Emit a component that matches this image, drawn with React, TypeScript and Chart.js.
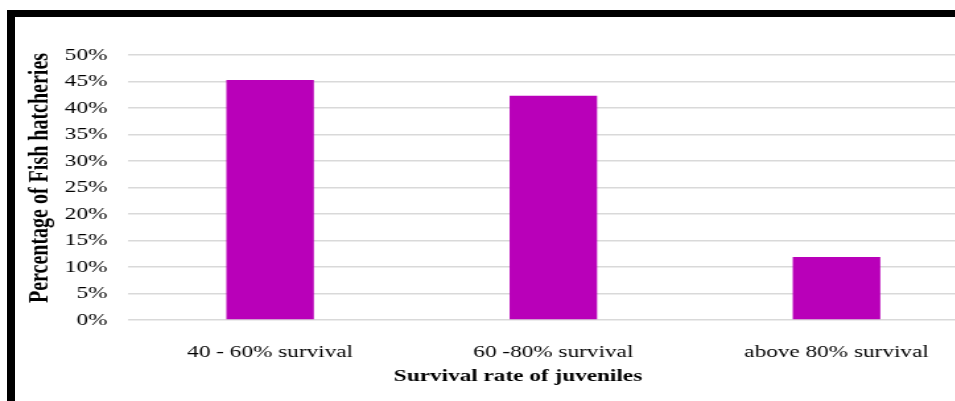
import React, { useEffect, useRef } from "react";
import { Chart, registerables } from "chart.js";

Chart.register(...registerables);

// ---- data ----
const categories: string[] = ["40 - 60% survival", "60 -80% survival", "above 80% survival"];
const values: number[] = [45.3, 42.3, 11.9];
const yMin = 0;
const yMax = 50;
const yStep = 5;
const yTitle = "Percentage of Fish hatcheries";
const xTitle = "Survival rate of juveniles";

// ---- layout (the reference is horizontally stretched) ----
const SX = 1.32;
const PLOT_LEFT = 128.5; // screen px
const PLOT_RIGHT = 978; // screen px (plot runs past the right edge)
const PLOT_TOP = 55;
const PLOT_BOTTOM = 320;
const W = Math.round(PLOT_RIGHT / SX);
const H = 401;
const FONT = '"Liberation Serif", "Times New Roman", serif';
const BAR_COLOR = "#b900b9";
const GRID_COLOR = "#d9d9d9";

const axisTitles = {
  id: "axisTitles",
  afterDraw(chart: any) {
    const ctx = chart.ctx as CanvasRenderingContext2D;
    ctx.save();
    ctx.fillStyle = "#000";
    ctx.textAlign = "center";
    ctx.textBaseline = "middle";
    ctx.font = `bold 17.6px ${FONT}`;
    ctx.fillText(xTitle, 518 / SX, 376);
    ctx.translate(41 / SX, 178);
    ctx.rotate(-Math.PI / 2);
    ctx.font = `bold 20px ${FONT}`;
    ctx.fillText(yTitle, 0, 0);
    ctx.restore();
  },
};

export default function App() {
  const ref = useRef<HTMLCanvasElement | null>(null);

  useEffect(() => {
    if (!ref.current) return;
    const chart = new Chart(ref.current, {
      type: "bar",
      data: {
        labels: categories,
        datasets: [
          {
            data: values,
            backgroundColor: BAR_COLOR,
            borderWidth: 0,
            categoryPercentage: 1,
            barPercentage: 0.309,
          },
        ],
      },
      options: {
        responsive: false,
        maintainAspectRatio: false,
        devicePixelRatio: 1,
        animation: false,
        layout: { padding: { top: PLOT_TOP, left: 0, right: 0, bottom: 0 } },
        plugins: {
          legend: { display: false },
          tooltip: { enabled: false },
          title: { display: false },
        },
        scales: {
          x: {
            type: "category",
            grid: { display: false, drawTicks: false },
            border: { display: false },
            ticks: {
              color: "#000",
              font: { family: FONT, size: 17.6 },
              padding: 21.5,
              maxRotation: 0,
              autoSkip: false,
            },
            afterFit: (s: any) => {
              s.height = H - PLOT_BOTTOM;
            },
          },
          y: {
            min: yMin,
            max: yMax,
            grid: { color: GRID_COLOR, lineWidth: 1.5, drawTicks: false },
            border: { display: false },
            ticks: {
              stepSize: yStep,
              color: "#000",
              font: { family: FONT, size: 17.6 },
              padding: 16,
              callback: (v: any) => `${v}%`,
            },
            afterFit: (s: any) => {
              s.width = PLOT_LEFT / SX;
            },
          },
        },
      },
      plugins: [axisTitles],
    });
    return () => chart.destroy();
  }, []);

  return (
    <div
      style={{
        position: "absolute",
        left: 0,
        top: 0,
        width: 955,
        height: 401,
        overflow: "hidden",
        background: "#fff",
      }}
    >
      <canvas
        ref={ref}
        width={W}
        height={H}
        style={{
          position: "absolute",
          left: 0,
          top: 0,
          display: "block",
          transform: `scaleX(${SX})`,
          transformOrigin: "0 0",
        }}
      />
      <div style={{ position: "absolute", left: 7, top: 10, width: 960, height: 7, background: "#000" }} />
      <div style={{ position: "absolute", left: 7, top: 10, width: 8, height: 400, background: "#000" }} />
    </div>
  );
}
